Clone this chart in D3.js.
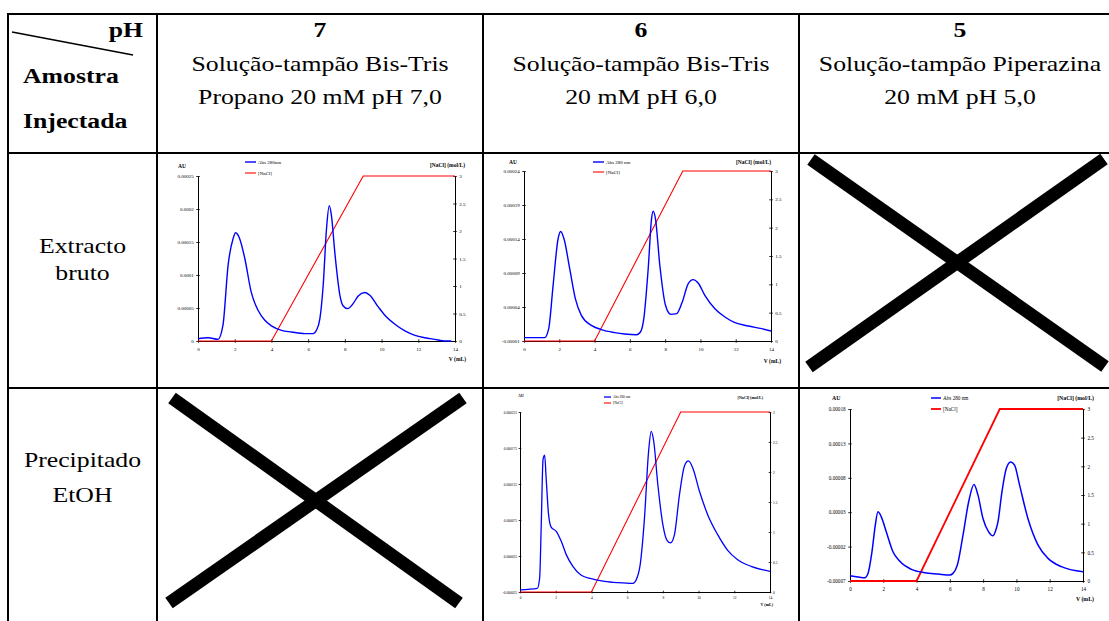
<!DOCTYPE html>
<html lang="pt">
<head>
<meta charset="UTF-8">
<title>Cromatogramas - pH / Amostra</title>
<script src="https://d3js.org/d3.v7.min.js"></script>
<style>
    body { margin: 0; background: #fff; }
    svg { display: block; }
    .cell-text { font-family: "Liberation Serif", "Times New Roman", serif; font-size: 22px; fill: #000; }
    .bold { font-weight: bold; }
    .chart text { font-family: "Liberation Serif", "Times New Roman", serif; fill: #000; }
    .chart .domain, .chart .tick line { stroke: #000; }
</style>
</head>
<body>
<div id="table"></div>
<script>
// header and row labels
const phLevels = ["7", "6", "5"];
const bufferLine1 = ["Solução-tampão Bis-Tris", "Solução-tampão Bis-Tris", "Solução-tampão Piperazina"];
const bufferLine2 = ["Propano 20 mM pH 7,0", "20 mM pH 6,0", "20 mM pH 5,0"];
const sampleRows = [["Extracto", "bruto"], ["Precipitado", "EtOH"]];

// salt gradient (same in every run)
const naclVolume = [0, 4, 9, 14];
const naclConc = [0, 0, 3, 3];

// crude extract, pH 7
const volExtPH7 = [0, 0.55, 1.09, 1.36, 1.64, 1.91, 2.05, 2.27, 2.55, 2.9, 3.27, 3.64, 4, 4.55, 5.09, 5.82, 6.27, 6.45, 6.64, 6.82, 7.0, 7.15, 7.27, 7.45, 7.73, 7.91, 8.15, 8.45, 8.73, 9.09, 9.36, 9.82, 10.18, 10.73, 11.27, 11.82, 12.36, 12.9, 13.45, 13.8];
const absExtPH7 = [0.0000035, 0.000005, 0.0000025, 0.000024, 0.000115, 0.000155, 0.000164, 0.000155, 0.000125, 0.000074, 0.0000465, 0.0000314, 0.000023, 0.0000162, 0.0000137, 0.0000111, 0.0000111, 0.0000162, 0.000034, 0.0000845, 0.00017, 0.000205, 0.00019, 0.000135, 0.0000693, 0.000053, 0.000049, 0.0000567, 0.0000683, 0.0000734, 0.0000693, 0.0000516, 0.000039, 0.0000253, 0.0000152, 0.0000086, 0.000005, 0.0000025, 0, 0];

// crude extract, pH 6
const volExtPH6 = [0, 1.17, 1.4, 1.65, 1.93, 2.08, 2.27, 2.59, 2.91, 3.25, 3.82, 4.39, 5.15, 5.71, 6.38, 6.6, 6.79, 7.04, 7.23, 7.32, 7.45, 7.7, 8.02, 8.32, 8.65, 8.97, 9.31, 9.59, 9.87, 10.25, 10.82, 11.39, 11.96, 12.71, 13.47, 14];
const absExtPH6 = [-0.0000051, -0.0000051, 0.0000081, 0.0000719, 0.00014, 0.000151, 0.00014, 0.0000964, 0.0000523, 0.0000277, 0.000013, 0.0000067, 0.0000023, 0.0000003, -0.0000007, 0.0000032, 0.0000228, 0.0000964, 0.00017, 0.000181, 0.00017, 0.000101, 0.0000425, 0.0000292, 0.0000302, 0.0000474, 0.0000743, 0.0000802, 0.0000753, 0.0000572, 0.0000375, 0.0000253, 0.000017, 0.0000121, 0.0000081, 0.0000047];

// EtOH precipitate, pH 6
const volPptPH6 = [0, 0.97, 1.1, 1.19, 1.29, 1.38, 1.47, 1.6, 1.75, 2.03, 2.31, 2.59, 2.96, 3.43, 3.99, 4.74, 5.48, 6.32, 6.51, 6.73, 6.97, 7.2, 7.35, 7.49, 7.72, 8.0, 8.24, 8.43, 8.65, 8.93, 9.21, 9.43, 9.68, 10.05, 10.51, 11.07, 11.63, 12.19, 12.94, 14];
const absPptPH6 = [-0.000022, -0.00002, -0.0000056, 0.0000685, 0.000159, 0.000165, 0.000131, 0.0000824, 0.0000648, 0.0000593, 0.0000454, 0.0000269, 0.0000106, -0.0000018, -0.0000065, -0.0000102, -0.000012, -0.000013, -0.0000079, 0.000013, 0.0000773, 0.00017, 0.000198, 0.000184, 0.000124, 0.0000685, 0.0000463, 0.0000431, 0.0000546, 0.00011, 0.00015, 0.000157, 0.000147, 0.000115, 0.0000824, 0.0000546, 0.0000329, 0.0000199, 0.0000106, 0.0000037];

// EtOH precipitate, pH 5
const volPptPH5 = [0, 0.48, 0.88, 1.08, 1.32, 1.52, 1.68, 1.88, 2.18, 2.58, 2.98, 3.69, 4.49, 5.29, 5.99, 6.19, 6.45, 6.79, 7.13, 7.45, 7.69, 7.99, 8.33, 8.59, 8.79, 8.89, 9.13, 9.39, 9.65, 9.89, 10.19, 10.69, 11.3, 11.9, 12.7, 14];
const absPptPH5 = [-0.0000623, -0.0000642, -0.0000653, -0.000059, -0.0000274, 0.0000113, 0.0000306, 0.0000233, 0.0000015, -0.0000274, -0.000041, -0.0000531, -0.0000579, -0.0000598, -0.0000613, -0.0000589, -0.0000468, -0.0000032, 0.0000452, 0.0000703, 0.0000548, 0.0000209, 0.0000015, -0.0000043, 0.0000063, 0.000016, 0.0000596, 0.0000935, 0.0001031, 0.0000983, 0.0000693, 0.0000209, -0.0000178, -0.0000371, -0.0000492, -0.0000565];

// axis ticks
const volTicks = [0, 2, 4, 6, 8, 10, 12, 14];
const naclTicks = [0, 0.5, 1, 1.5, 2, 2.5, 3];
const naclTickLabels = ["0", "0.5", "1", "1.5", "2", "2.5", "3"];
const auTicksExtPH7 = [0, 0.00005, 0.0001, 0.00015, 0.0002, 0.00025];
const auLabelsExtPH7 = ["0", "0.00005", "0.0001", "0.00015", "0.0002", "0.00025"];
const auTicksExtPH6 = [-0.00001, 0.00004, 0.00009, 0.00014, 0.00019, 0.00024];
const auLabelsExtPH6 = ["-0.00001", "0.00004", "0.00009", "0.00014", "0.00019", "0.00024"];
const auTicksPptPH6 = [-0.000025, 0.000025, 0.000075, 0.000125, 0.000175, 0.000225];
const auLabelsPptPH6 = ["-0.000025", "0.000025", "0.000075", "0.000125", "0.000175", "0.000225"];
const auTicksPptPH5 = [-0.00007, -0.00002, 0.00003, 0.00008, 0.00013, 0.00018];
const auLabelsPptPH5 = ["-0.00007", "-0.00002", "0.00003", "0.00008", "0.00013", "0.00018"];

const W = 1109, H = 621;
const SX = 1.17; // the scanned table is a bit stretched sideways
const colX = [8, 157, 483, 799, 1121];
const rowY = [14, 153, 388, 640];

const svg = d3.select("#table").append("svg")
    .attr("width", W)
    .attr("height", H);

function wideText(x, y, str, anchor, bold, size) {
    svg.append("text")
        .attr("class", "cell-text" + (bold ? " bold" : ""))
        .attr("transform", `translate(${x},${y}) scale(${SX},1)`)
        .attr("text-anchor", anchor)
        .style("font-size", (size || 22) + "px")
        .text(str);
}

// grid
const grid = svg.append("g").attr("stroke", "#000").attr("stroke-width", 2);
rowY.forEach(y => grid.append("line").attr("x1", colX[0] - 1).attr("x2", colX[4]).attr("y1", y).attr("y2", y));
colX.forEach(x => grid.append("line").attr("x1", x).attr("x2", x).attr("y1", rowY[0] - 1).attr("y2", rowY[3]));

// corner cell
svg.append("line").attr("x1", 12).attr("y1", 32).attr("x2", 133).attr("y2", 55)
    .attr("stroke", "#000").attr("stroke-width", 1.6);
wideText(143, 37, "pH", "end", true);
wideText(23, 83, "Amostra", "start", true);
wideText(23, 128, "Injectada", "start", true);

// column headers
phLevels.forEach((ph, i) => {
    const cx = (colX[i + 1] + colX[i + 2]) / 2;
    wideText(cx, 37, ph, "middle", true);
    wideText(cx, 71, bufferLine1[i], "middle", false);
    wideText(cx, 104, bufferLine2[i], "middle", false);
});

// row headers
const rowTextY = [[253, 280], [467, 502]];
sampleRows.forEach((lines, r) => {
    lines.forEach((s, k) => wideText((colX[0] + colX[1]) / 2, rowTextY[r][k], s, "middle", false));
});

// crossed-out cells (no run)
function cross(a, b, c, d) {
    const g = svg.append("g").attr("stroke", "#000").attr("stroke-width", 13).attr("stroke-linecap", "butt");
    g.append("line").attr("x1", a[0]).attr("y1", a[1]).attr("x2", b[0]).attr("y2", b[1]);
    g.append("line").attr("x1", c[0]).attr("y1", c[1]).attr("x2", d[0]).attr("y2", d[1]);
}
cross([811, 159.5], [1105, 366.5], [1104, 159], [809, 367]);
cross([172, 398], [459, 603], [463, 398], [169, 603]);

// one chromatogram
function chromatogram(cfg) {
    const { l, r, t, b } = cfg.box;
    const g = svg.append("g").attr("class", "chart");

    const x = d3.scaleLinear().domain([0, 14]).range([l, r]);
    const yL = d3.scaleLinear().domain([cfg.auTicks[0], cfg.auTicks[cfg.auTicks.length - 1]]).range([b, t]);
    const yR = d3.scaleLinear().domain([0, 3]).range([b, t]);
    const tk = cfg.tick;

    const ax = g.append("g").attr("transform", `translate(0,${b})`)
        .call(d3.axisBottom(x).tickValues(volTicks).tickSize(tk).tickSizeOuter(0).tickPadding(cfg.fs * 0.9));
    ax.selectAll(".tick line").attr("y1", -tk);

    const al = g.append("g").attr("transform", `translate(${l},0)`)
        .call(d3.axisLeft(yL).tickValues(cfg.auTicks).tickFormat((d, i) => cfg.auLabels[i])
            .tickSize(tk).tickSizeOuter(0).tickPadding(cfg.fs * 0.5));
    al.selectAll(".tick line").attr("x1", tk);

    const ar = g.append("g").attr("transform", `translate(${r},0)`)
        .call(d3.axisRight(yR).tickValues(naclTicks).tickFormat((d, i) => naclTickLabels[i])
            .tickSize(tk).tickSizeOuter(0).tickPadding(cfg.fs * 0.5));
    ar.selectAll(".tick line").attr("x1", -tk);

    g.selectAll(".tick text").style("font-size", cfg.fs + "px").style("font-family", "Liberation Serif");
    g.selectAll(".domain").attr("stroke-width", 1);
    g.selectAll(".tick line").attr("stroke-width", 0.8);

    const lineL = d3.line().x(d => x(d[0])).y(d => yL(d[1])).curve(d3.curveMonotoneX);
    const lineR = d3.line().x(d => x(d[0])).y(d => yR(d[1]));

    g.append("path")
        .datum(naclVolume.map((v, i) => [v, naclConc[i]]))
        .attr("d", lineR).attr("fill", "none").attr("stroke", "#ff0000")
        .attr("stroke-width", cfg.redW);

    g.append("path")
        .datum(cfg.vol.map((v, i) => [v, cfg.abs[i]]))
        .attr("d", lineL).attr("fill", "none").attr("stroke", "#0000ff")
        .attr("stroke-width", cfg.blueW).attr("stroke-linejoin", "round");

    // titles
    const tf = cfg.tfs + "px";
    g.append("text").attr("x", cfg.au[0]).attr("y", cfg.au[1]).style("font-size", tf).style("font-weight", "bold").text("AU");
    g.append("text").attr("x", cfg.nacl[0]).attr("y", cfg.nacl[1]).attr("text-anchor", "end")
        .style("font-size", tf).style("font-weight", "bold").text("[NaCl] (mol/L)");
    g.append("text").attr("x", cfg.vl[0]).attr("y", cfg.vl[1]).attr("text-anchor", "end")
        .style("font-size", tf).style("font-weight", "bold").text("V (mL)");

    // legend
    const lg = cfg.leg;
    [[cfg.absLabel, "#0000ff", cfg.blueW], ["[NaCl]", "#ff0000", cfg.redW]].forEach((it, i) => {
        const ly = lg.y[i];
        g.append("line").attr("x1", lg.x0).attr("x2", lg.x1).attr("y1", ly).attr("y2", ly)
            .attr("stroke", it[1]).attr("stroke-width", it[2]);
        g.append("text").attr("x", lg.x1 + 2).attr("y", ly + cfg.fs * 0.35).style("font-size", cfg.fs + "px").text(it[0]);
    });
}

chromatogram({
    box: { l: 198, r: 455, t: 176, b: 341 }, vol: volExtPH7, abs: absExtPH7, absLabel: "Abs 280nm",
    auTicks: auTicksExtPH7, auLabels: auLabelsExtPH7, fs: 5, tfs: 5.5, tick: 1.8, redW: 1.1, blueW: 1.4,
    au: [178, 168], nacl: [465, 167], vl: [466, 361],
    leg: { x0: 245, x1: 256, y: [162, 173] }
});
chromatogram({
    box: { l: 524, r: 771, t: 171, b: 341 }, vol: volExtPH6, abs: absExtPH6, absLabel: "Abs 280 nm",
    auTicks: auTicksExtPH6, auLabels: auLabelsExtPH6, fs: 5, tfs: 5.5, tick: 1.8, redW: 1.1, blueW: 1.4,
    au: [509, 164], nacl: [771, 164], vl: [781, 363],
    leg: { x0: 593, x1: 604, y: [162, 172] }
});
chromatogram({
    box: { l: 520, r: 770, t: 412, b: 592 }, vol: volPptPH6, abs: absPptPH6, absLabel: "Abs 280 nm",
    auTicks: auTicksPptPH6, auLabels: auLabelsPptPH6, fs: 3.5, tfs: 4, tick: 1.3, redW: 1.1, blueW: 1.3,
    au: [518, 397], nacl: [763, 399], vl: [773, 606],
    leg: { x0: 604, x1: 611, y: [397, 403] }
});
chromatogram({
    box: { l: 850, r: 1083, t: 409, b: 581 }, vol: volPptPH5, abs: absPptPH5, absLabel: "Abs 280 nm",
    auTicks: auTicksPptPH5, auLabels: auLabelsPptPH5, fs: 5.2, tfs: 5.8, tick: 1.8, redW: 1.8, blueW: 1.5,
    au: [832, 400], nacl: [1094, 400], vl: [1094, 601],
    leg: { x0: 931, x1: 941, y: [398, 409] }
});
</script>
</body>
</html>
